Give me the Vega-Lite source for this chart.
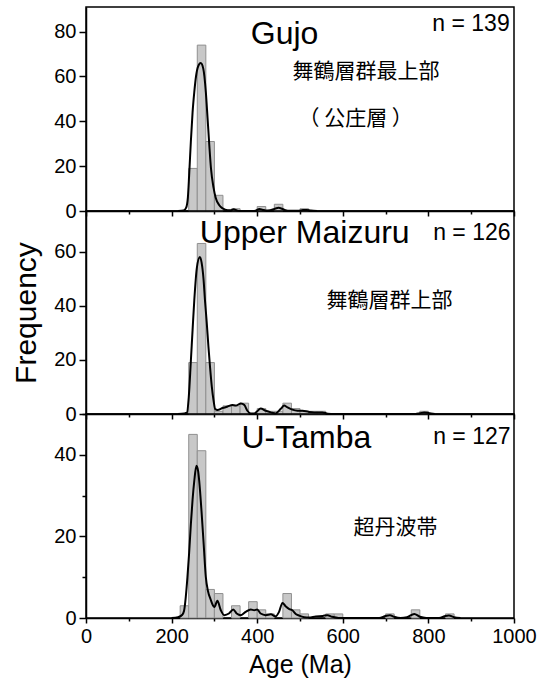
{
  "$schema": "https://vega.github.io/schema/vega-lite/v6.json",
  "padding": {"left": 11, "top": 6, "right": 5, "bottom": 5},
  "bounds": "flush",
  "spacing": 0,
  "config": {
    "font": "Liberation Sans",
    "view": {"stroke": "black", "strokeWidth": 1.5},
    "axis": {"domainColor": "black", "domainWidth": 1.5, "tickColor": "black", "tickWidth": 1.5, "labelColor": "black", "titleColor": "black", "grid": false, "labelFont": "Liberation Sans", "labelFontSize": 20, "titleFont": "Liberation Sans", "titleFontWeight": "normal", "labelFlush": false}
  },
  "datasets": {
    "hist": [
      {"panel": "Gujo", "start": 240, "end": 260, "count": 19},
      {"panel": "Gujo", "start": 260, "end": 280, "count": 74},
      {"panel": "Gujo", "start": 280, "end": 300, "count": 31},
      {"panel": "Gujo", "start": 300, "end": 320, "count": 7},
      {"panel": "Gujo", "start": 340, "end": 360, "count": 1},
      {"panel": "Gujo", "start": 400, "end": 420, "count": 2},
      {"panel": "Gujo", "start": 440, "end": 460, "count": 3},
      {"panel": "Gujo", "start": 500, "end": 520, "count": 1},
      {"panel": "Upper", "start": 240, "end": 260, "count": 19},
      {"panel": "Upper", "start": 260, "end": 280, "count": 63},
      {"panel": "Upper", "start": 280, "end": 300, "count": 19},
      {"panel": "Upper", "start": 300, "end": 320, "count": 1},
      {"panel": "Upper", "start": 320, "end": 340, "count": 3},
      {"panel": "Upper", "start": 340, "end": 360, "count": 3},
      {"panel": "Upper", "start": 360, "end": 380, "count": 4},
      {"panel": "Upper", "start": 400, "end": 420, "count": 2},
      {"panel": "Upper", "start": 420, "end": 440, "count": 1},
      {"panel": "Upper", "start": 440, "end": 460, "count": 1},
      {"panel": "Upper", "start": 460, "end": 480, "count": 4},
      {"panel": "Upper", "start": 480, "end": 500, "count": 2},
      {"panel": "Upper", "start": 500, "end": 520, "count": 1},
      {"panel": "Upper", "start": 520, "end": 540, "count": 1},
      {"panel": "Upper", "start": 540, "end": 560, "count": 1},
      {"panel": "Upper", "start": 780, "end": 800, "count": 1},
      {"panel": "Tamba", "start": 220, "end": 240, "count": 3},
      {"panel": "Tamba", "start": 240, "end": 260, "count": 45},
      {"panel": "Tamba", "start": 260, "end": 280, "count": 41},
      {"panel": "Tamba", "start": 280, "end": 300, "count": 7},
      {"panel": "Tamba", "start": 300, "end": 320, "count": 6},
      {"panel": "Tamba", "start": 340, "end": 360, "count": 3},
      {"panel": "Tamba", "start": 380, "end": 400, "count": 4},
      {"panel": "Tamba", "start": 400, "end": 420, "count": 2},
      {"panel": "Tamba", "start": 420, "end": 440, "count": 1},
      {"panel": "Tamba", "start": 460, "end": 480, "count": 6},
      {"panel": "Tamba", "start": 480, "end": 500, "count": 2},
      {"panel": "Tamba", "start": 500, "end": 520, "count": 1},
      {"panel": "Tamba", "start": 560, "end": 580, "count": 1},
      {"panel": "Tamba", "start": 580, "end": 600, "count": 1},
      {"panel": "Tamba", "start": 700, "end": 720, "count": 1},
      {"panel": "Tamba", "start": 760, "end": 780, "count": 2},
      {"panel": "Tamba", "start": 840, "end": 860, "count": 1}
    ],
    "kde": [
      {"panel": "Gujo", "age": 215, "freq": 0},
      {"panel": "Gujo", "age": 228, "freq": 0.2},
      {"panel": "Gujo", "age": 234, "freq": 1.5},
      {"panel": "Gujo", "age": 238, "freq": 6},
      {"panel": "Gujo", "age": 241, "freq": 16},
      {"panel": "Gujo", "age": 245, "freq": 31},
      {"panel": "Gujo", "age": 249, "freq": 44},
      {"panel": "Gujo", "age": 253, "freq": 53},
      {"panel": "Gujo", "age": 257, "freq": 60},
      {"panel": "Gujo", "age": 262, "freq": 64.5},
      {"panel": "Gujo", "age": 268, "freq": 66},
      {"panel": "Gujo", "age": 274, "freq": 63.5},
      {"panel": "Gujo", "age": 280, "freq": 53},
      {"panel": "Gujo", "age": 284, "freq": 41.5},
      {"panel": "Gujo", "age": 288, "freq": 29.6},
      {"panel": "Gujo", "age": 292, "freq": 19},
      {"panel": "Gujo", "age": 298, "freq": 10.4},
      {"panel": "Gujo", "age": 303, "freq": 5.9},
      {"panel": "Gujo", "age": 311, "freq": 2.7},
      {"panel": "Gujo", "age": 319, "freq": 1.2},
      {"panel": "Gujo", "age": 331, "freq": 0.3},
      {"panel": "Gujo", "age": 338, "freq": 0.3},
      {"panel": "Gujo", "age": 345, "freq": 0.8},
      {"panel": "Gujo", "age": 352, "freq": 0.3},
      {"panel": "Gujo", "age": 360, "freq": 0},
      {"panel": "Gujo", "age": 390, "freq": 0},
      {"panel": "Gujo", "age": 398, "freq": 0.3},
      {"panel": "Gujo", "age": 405, "freq": 0.9},
      {"panel": "Gujo", "age": 412, "freq": 0.6},
      {"panel": "Gujo", "age": 420, "freq": 0.2},
      {"panel": "Gujo", "age": 430, "freq": 0.3},
      {"panel": "Gujo", "age": 440, "freq": 0.9},
      {"panel": "Gujo", "age": 450, "freq": 1.4},
      {"panel": "Gujo", "age": 458, "freq": 1.0},
      {"panel": "Gujo", "age": 466, "freq": 0.4},
      {"panel": "Gujo", "age": 475, "freq": 0.1},
      {"panel": "Gujo", "age": 495, "freq": 0.1},
      {"panel": "Gujo", "age": 507, "freq": 0.4},
      {"panel": "Gujo", "age": 515, "freq": 0.5},
      {"panel": "Gujo", "age": 525, "freq": 0.2},
      {"panel": "Gujo", "age": 540, "freq": 0},
      {"panel": "Upper", "age": 215, "freq": 0},
      {"panel": "Upper", "age": 230, "freq": 0.2},
      {"panel": "Upper", "age": 236, "freq": 0.5},
      {"panel": "Upper", "age": 240, "freq": 6},
      {"panel": "Upper", "age": 245, "freq": 19.6},
      {"panel": "Upper", "age": 249, "freq": 31},
      {"panel": "Upper", "age": 253, "freq": 42},
      {"panel": "Upper", "age": 259, "freq": 54},
      {"panel": "Upper", "age": 266, "freq": 58},
      {"panel": "Upper", "age": 270, "freq": 56},
      {"panel": "Upper", "age": 274.5, "freq": 50},
      {"panel": "Upper", "age": 278, "freq": 42},
      {"panel": "Upper", "age": 282, "freq": 34},
      {"panel": "Upper", "age": 286, "freq": 25},
      {"panel": "Upper", "age": 290, "freq": 17},
      {"panel": "Upper", "age": 294, "freq": 10},
      {"panel": "Upper", "age": 298, "freq": 5},
      {"panel": "Upper", "age": 302, "freq": 1.8},
      {"panel": "Upper", "age": 307, "freq": 1.5},
      {"panel": "Upper", "age": 319, "freq": 2.2},
      {"panel": "Upper", "age": 331, "freq": 2.8},
      {"panel": "Upper", "age": 342, "freq": 3.3},
      {"panel": "Upper", "age": 350, "freq": 3.1},
      {"panel": "Upper", "age": 362, "freq": 3.9},
      {"panel": "Upper", "age": 370, "freq": 3.3},
      {"panel": "Upper", "age": 377, "freq": 1.2},
      {"panel": "Upper", "age": 385, "freq": 0.2},
      {"panel": "Upper", "age": 393, "freq": 0.2},
      {"panel": "Upper", "age": 400, "freq": 1.0},
      {"panel": "Upper", "age": 408, "freq": 2},
      {"panel": "Upper", "age": 420, "freq": 1.2},
      {"panel": "Upper", "age": 432, "freq": 0.6},
      {"panel": "Upper", "age": 443, "freq": 0.2},
      {"panel": "Upper", "age": 455, "freq": 1.9},
      {"panel": "Upper", "age": 463, "freq": 3.1},
      {"panel": "Upper", "age": 470, "freq": 2.5},
      {"panel": "Upper", "age": 482, "freq": 1.6},
      {"panel": "Upper", "age": 494, "freq": 1.2},
      {"panel": "Upper", "age": 506, "freq": 1.2},
      {"panel": "Upper", "age": 520, "freq": 0.8},
      {"panel": "Upper", "age": 533, "freq": 0.6},
      {"panel": "Upper", "age": 545, "freq": 0.6},
      {"panel": "Upper", "age": 552, "freq": 0.6},
      {"panel": "Upper", "age": 565, "freq": 0.1},
      {"panel": "Upper", "age": 580, "freq": 0},
      {"panel": "Upper", "age": 770, "freq": 0},
      {"panel": "Upper", "age": 780, "freq": 0.3},
      {"panel": "Upper", "age": 790, "freq": 0.6},
      {"panel": "Upper", "age": 800, "freq": 0.4},
      {"panel": "Upper", "age": 815, "freq": 0},
      {"panel": "Tamba", "age": 200, "freq": 0},
      {"panel": "Tamba", "age": 215, "freq": 0.2},
      {"panel": "Tamba", "age": 225, "freq": 0.8},
      {"panel": "Tamba", "age": 229, "freq": 1.7},
      {"panel": "Tamba", "age": 233, "freq": 5},
      {"panel": "Tamba", "age": 237, "freq": 10},
      {"panel": "Tamba", "age": 241, "freq": 16},
      {"panel": "Tamba", "age": 245, "freq": 23},
      {"panel": "Tamba", "age": 249, "freq": 29},
      {"panel": "Tamba", "age": 253, "freq": 33.6},
      {"panel": "Tamba", "age": 258, "freq": 37.3},
      {"panel": "Tamba", "age": 262, "freq": 36},
      {"panel": "Tamba", "age": 264.5, "freq": 33.6},
      {"panel": "Tamba", "age": 270, "freq": 26},
      {"panel": "Tamba", "age": 275, "freq": 18},
      {"panel": "Tamba", "age": 280, "freq": 10},
      {"panel": "Tamba", "age": 285, "freq": 6.6},
      {"panel": "Tamba", "age": 291, "freq": 4.6},
      {"panel": "Tamba", "age": 297, "freq": 3},
      {"panel": "Tamba", "age": 300, "freq": 2.7},
      {"panel": "Tamba", "age": 307, "freq": 4.2},
      {"panel": "Tamba", "age": 315, "freq": 1.9},
      {"panel": "Tamba", "age": 323, "freq": 0.7},
      {"panel": "Tamba", "age": 334, "freq": 1.1},
      {"panel": "Tamba", "age": 344, "freq": 2.1},
      {"panel": "Tamba", "age": 352, "freq": 1.1},
      {"panel": "Tamba", "age": 362, "freq": 0.7},
      {"panel": "Tamba", "age": 373, "freq": 1.5},
      {"panel": "Tamba", "age": 385, "freq": 2.1},
      {"panel": "Tamba", "age": 393, "freq": 1.9},
      {"panel": "Tamba", "age": 400, "freq": 2.1},
      {"panel": "Tamba", "age": 408, "freq": 1.1},
      {"panel": "Tamba", "age": 420, "freq": 0.7},
      {"panel": "Tamba", "age": 432, "freq": 0.9},
      {"panel": "Tamba", "age": 443, "freq": 0.4},
      {"panel": "Tamba", "age": 451, "freq": 1.5},
      {"panel": "Tamba", "age": 459, "freq": 3.7},
      {"panel": "Tamba", "age": 467, "freq": 2.8},
      {"panel": "Tamba", "age": 475, "freq": 2.2},
      {"panel": "Tamba", "age": 482, "freq": 1.9},
      {"panel": "Tamba", "age": 490, "freq": 1.0},
      {"panel": "Tamba", "age": 498, "freq": 0.6},
      {"panel": "Tamba", "age": 510, "freq": 0.2},
      {"panel": "Tamba", "age": 521, "freq": 0.1},
      {"panel": "Tamba", "age": 537, "freq": 0.4},
      {"panel": "Tamba", "age": 553, "freq": 0.5},
      {"panel": "Tamba", "age": 564, "freq": 0.7},
      {"panel": "Tamba", "age": 575, "freq": 0.3},
      {"panel": "Tamba", "age": 590, "freq": 0},
      {"panel": "Tamba", "age": 685, "freq": 0},
      {"panel": "Tamba", "age": 700, "freq": 0.5},
      {"panel": "Tamba", "age": 710, "freq": 0.7},
      {"panel": "Tamba", "age": 720, "freq": 0.3},
      {"panel": "Tamba", "age": 735, "freq": 0},
      {"panel": "Tamba", "age": 750, "freq": 0.2},
      {"panel": "Tamba", "age": 767, "freq": 1.0},
      {"panel": "Tamba", "age": 780, "freq": 0.3},
      {"panel": "Tamba", "age": 795, "freq": 0},
      {"panel": "Tamba", "age": 825, "freq": 0},
      {"panel": "Tamba", "age": 840, "freq": 0.5},
      {"panel": "Tamba", "age": 848, "freq": 0.6},
      {"panel": "Tamba", "age": 860, "freq": 0.2},
      {"panel": "Tamba", "age": 875, "freq": 0}
    ],
    "labels": [
      {"panel": "Gujo", "kind": "name", "text": "Gujo", "x": 464, "y": 79},
      {"panel": "Gujo", "kind": "n", "text": "n = 139", "x": 990, "y": 83.5},
      {"panel": "Gujo", "kind": "jp", "text": "舞鶴層群最上部", "x": 654, "y": 62},
      {"panel": "Gujo", "kind": "jp", "text": "（ 公庄層 ）", "x": 630, "y": 41},
      {"panel": "Upper", "kind": "name", "text": "Upper Maizuru", "x": 511, "y": 67},
      {"panel": "Upper", "kind": "n", "text": "n = 126", "x": 992, "y": 67},
      {"panel": "Upper", "kind": "jp", "text": "舞鶴層群上部", "x": 709, "y": 41.9},
      {"panel": "Tamba", "kind": "name", "text": "U-Tamba", "x": 515, "y": 44},
      {"panel": "Tamba", "kind": "n", "text": "n = 127", "x": 992, "y": 44.4},
      {"panel": "Tamba", "kind": "jp", "text": "超丹波帯", "x": 723, "y": 22}
    ]
  },
  "vconcat": [
    {
      "width": 428, "height": 204,
      "layer": [
        {"data": {"name": "hist"}, "transform": [{"filter": "datum.panel === 'Gujo'"}],
         "mark": {"type": "rect", "fill": "#c8c8c8", "stroke": "#909090", "strokeWidth": 1},
         "encoding": {
           "x": {"field": "start", "type": "quantitative", "title": null, "scale": {"domain": [0, 1000], "nice": false, "zero": false},
                 "axis": {"values": [0,50,100,150,200,250,300,350,400,450,500,550,600,650,700,750,800,850,900,950,1000], "labels": false, "tickSize": {"expr": "datum.value % 200 === 0 ? 5 : 3"}}},
           "x2": {"field": "end"},
           "y": {"field": "count", "type": "quantitative", "title": null, "scale": {"domain": [0, 91], "nice": false},
                 "axis": {"values": [0,5,10,15,20,25,30,35,40,45,50,55,60,65,70,75,80,85,90], "labelExpr": "datum.value % 20 === 0 ? datum.label : ''", "tickSize": {"expr": "datum.value % 20 === 0 ? 7 : 4"}, "labelPadding": 3}},
           "y2": {"datum": 0}
         }},
        {"data": {"name": "kde"}, "transform": [{"filter": "datum.panel === 'Gujo'"}],
         "mark": {"type": "line", "color": "black", "strokeWidth": 2, "interpolate": "monotone"},
         "encoding": {"x": {"field": "age", "type": "quantitative", "title": null}, "y": {"field": "freq", "type": "quantitative", "title": null}}},
        {"data": {"name": "labels"}, "transform": [{"filter": "datum.panel === 'Gujo' && datum.kind === 'name'"}],
         "mark": {"type": "text", "font": "Liberation Sans", "fontSize": 32, "align": "center", "baseline": "middle", "color": "black"},
         "encoding": {"x": {"field": "x", "type": "quantitative", "title": null}, "y": {"field": "y", "type": "quantitative", "title": null}, "text": {"field": "text"}}},
        {"data": {"name": "labels"}, "transform": [{"filter": "datum.panel === 'Gujo' && datum.kind === 'n'"}],
         "mark": {"type": "text", "font": "Liberation Sans", "fontSize": 23, "align": "right", "baseline": "middle", "color": "black"},
         "encoding": {"x": {"field": "x", "type": "quantitative", "title": null}, "y": {"field": "y", "type": "quantitative", "title": null}, "text": {"field": "text"}}},
        {"data": {"name": "labels"}, "transform": [{"filter": "datum.panel === 'Gujo' && datum.kind === 'jp'"}],
         "mark": {"type": "text", "font": "Noto Sans CJK JP", "fontSize": 21, "align": "center", "baseline": "middle", "color": "black"},
         "encoding": {"x": {"field": "x", "type": "quantitative", "title": null}, "y": {"field": "y", "type": "quantitative", "title": null}, "text": {"field": "text"}}}
      ]
    },
    {
      "width": 428, "height": 203,
      "layer": [
        {"data": {"name": "hist"}, "transform": [{"filter": "datum.panel === 'Upper'"}],
         "mark": {"type": "rect", "fill": "#c8c8c8", "stroke": "#909090", "strokeWidth": 1},
         "encoding": {
           "x": {"field": "start", "type": "quantitative", "title": null, "scale": {"domain": [0, 1000], "nice": false, "zero": false},
                 "axis": {"values": [0,50,100,150,200,250,300,350,400,450,500,550,600,650,700,750,800,850,900,950,1000], "labels": false, "tickSize": {"expr": "datum.value % 200 === 0 ? 5 : 3"}}},
           "x2": {"field": "end"},
           "y": {"field": "count", "type": "quantitative", "title": "Frequency", "scale": {"domain": [0, 75], "nice": false},
                 "axis": {"values": [0,10,20,30,40,50,60,70], "labelExpr": "datum.value % 20 === 0 ? datum.label : ''", "tickSize": {"expr": "datum.value % 20 === 0 ? 7 : 4"}, "labelPadding": 3, "titleFontSize": 30, "titlePadding": 12}},
           "y2": {"datum": 0}
         }},
        {"data": {"name": "kde"}, "transform": [{"filter": "datum.panel === 'Upper'"}],
         "mark": {"type": "line", "color": "black", "strokeWidth": 2, "interpolate": "monotone"},
         "encoding": {"x": {"field": "age", "type": "quantitative", "title": null}, "y": {"field": "freq", "type": "quantitative", "title": "Frequency"}}},
        {"data": {"name": "labels"}, "transform": [{"filter": "datum.panel === 'Upper' && datum.kind === 'name'"}],
         "mark": {"type": "text", "font": "Liberation Sans", "fontSize": 32, "align": "center", "baseline": "middle", "color": "black"},
         "encoding": {"x": {"field": "x", "type": "quantitative", "title": null}, "y": {"field": "y", "type": "quantitative", "title": "Frequency"}, "text": {"field": "text"}}},
        {"data": {"name": "labels"}, "transform": [{"filter": "datum.panel === 'Upper' && datum.kind === 'n'"}],
         "mark": {"type": "text", "font": "Liberation Sans", "fontSize": 23, "align": "right", "baseline": "middle", "color": "black"},
         "encoding": {"x": {"field": "x", "type": "quantitative", "title": null}, "y": {"field": "y", "type": "quantitative", "title": "Frequency"}, "text": {"field": "text"}}},
        {"data": {"name": "labels"}, "transform": [{"filter": "datum.panel === 'Upper' && datum.kind === 'jp'"}],
         "mark": {"type": "text", "font": "Noto Sans CJK JP", "fontSize": 21, "align": "center", "baseline": "middle", "color": "black"},
         "encoding": {"x": {"field": "x", "type": "quantitative", "title": null}, "y": {"field": "y", "type": "quantitative", "title": "Frequency"}, "text": {"field": "text"}}}
      ]
    },
    {
      "width": 428, "height": 204,
      "layer": [
        {"data": {"name": "hist"}, "transform": [{"filter": "datum.panel === 'Tamba'"}],
         "mark": {"type": "rect", "fill": "#c8c8c8", "stroke": "#909090", "strokeWidth": 1},
         "encoding": {
           "x": {"field": "start", "type": "quantitative", "title": "Age (Ma)", "scale": {"domain": [0, 1000], "nice": false, "zero": false},
                 "axis": {"values": [0,50,100,150,200,250,300,350,400,450,500,550,600,650,700,750,800,850,900,950,1000], "labelExpr": "datum.value % 200 === 0 ? '' + datum.value : ''", "tickSize": {"expr": "datum.value % 200 === 0 ? 5 : 3"}, "labelPadding": 3, "titleFontSize": 25, "titlePadding": 6}},
           "x2": {"field": "end"},
           "y": {"field": "count", "type": "quantitative", "title": null, "scale": {"domain": [0, 50], "nice": false},
                 "axis": {"values": [0,10,20,30,40,50], "labelExpr": "datum.value % 20 === 0 ? datum.label : ''", "tickSize": {"expr": "datum.value % 20 === 0 ? 7 : 4"}, "labelPadding": 3}},
           "y2": {"datum": 0}
         }},
        {"data": {"name": "kde"}, "transform": [{"filter": "datum.panel === 'Tamba'"}],
         "mark": {"type": "line", "color": "black", "strokeWidth": 2, "interpolate": "monotone"},
         "encoding": {"x": {"field": "age", "type": "quantitative", "title": "Age (Ma)"}, "y": {"field": "freq", "type": "quantitative", "title": null}}},
        {"data": {"name": "labels"}, "transform": [{"filter": "datum.panel === 'Tamba' && datum.kind === 'name'"}],
         "mark": {"type": "text", "font": "Liberation Sans", "fontSize": 32, "align": "center", "baseline": "middle", "color": "black"},
         "encoding": {"x": {"field": "x", "type": "quantitative", "title": "Age (Ma)"}, "y": {"field": "y", "type": "quantitative", "title": null}, "text": {"field": "text"}}},
        {"data": {"name": "labels"}, "transform": [{"filter": "datum.panel === 'Tamba' && datum.kind === 'n'"}],
         "mark": {"type": "text", "font": "Liberation Sans", "fontSize": 23, "align": "right", "baseline": "middle", "color": "black"},
         "encoding": {"x": {"field": "x", "type": "quantitative", "title": "Age (Ma)"}, "y": {"field": "y", "type": "quantitative", "title": null}, "text": {"field": "text"}}},
        {"data": {"name": "labels"}, "transform": [{"filter": "datum.panel === 'Tamba' && datum.kind === 'jp'"}],
         "mark": {"type": "text", "font": "Noto Sans CJK JP", "fontSize": 21, "align": "center", "baseline": "middle", "color": "black"},
         "encoding": {"x": {"field": "x", "type": "quantitative", "title": "Age (Ma)"}, "y": {"field": "y", "type": "quantitative", "title": null}, "text": {"field": "text"}}}
      ]
    }
  ]
}
